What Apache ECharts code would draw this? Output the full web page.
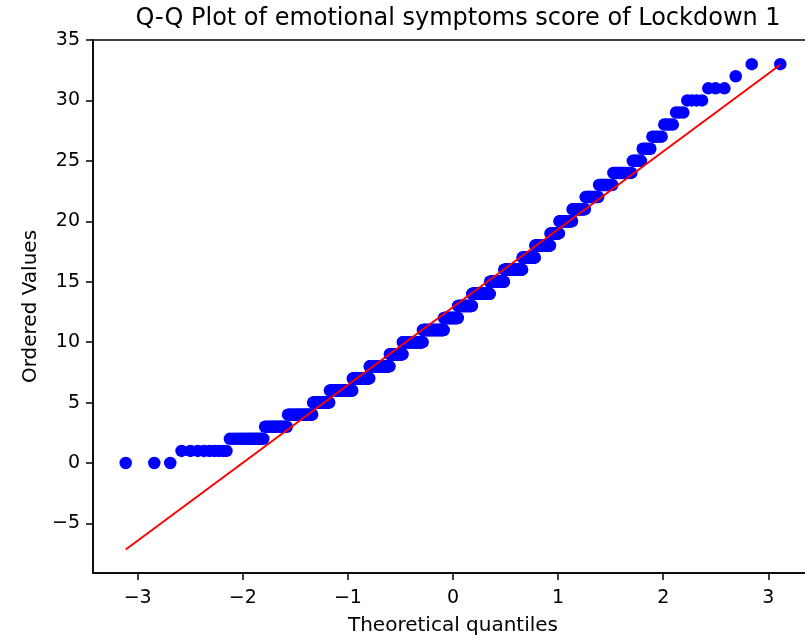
<!DOCTYPE html>
<html>
<head>
<meta charset="utf-8">
<script src="https://cdn.jsdelivr.net/npm/echarts@6/dist/echarts.min.js"></script>
<style>
html,body{margin:0;padding:0;background:#fff;}
#chart{width:805px;height:638px;}
</style>
</head>
<body>
<div id="chart"></div>
<script>
// Score values and how many respondents had each score
const scores = [0,1,2,3,4,5,6,7,8,9,10,11,12,13,14,15,16,17,18,19,20,21,22,23,24,25,26,27,28,29,30,31,32,33];
const counts = [3,9,15,16,25,22,37,33,45,32,53,59,40,40,49,37,44,28,30,16,21,18,16,14,15,6,5,5,4,3,4,3,1,2];
// fitted reference line (slope, intercept)
const fitSlope = 6.44;
const fitIntercept = 12.9;
const xTicks = [-3,-2,-1,0,1,2,3];
const yTicks = [-5,0,5,10,15,20,25,30,35];
const xRange = [-3.425, 3.425];
const yRange = [-9.1, 35.0];
const titleText = 'Q-Q Plot of emotional symptoms score of Lockdown 1';
const xName = 'Theoretical quantiles';
const yName = 'Ordered Values';

// Inverse standard normal CDF (Acklam)
function normInv(p){
  const a=[-3.969683028665376e+01,2.209460984245205e+02,-2.759285104469687e+02,1.383577518672690e+02,-3.066479806614716e+01,2.506628277459239e+00];
  const b=[-5.447609879822406e+01,1.615858368580409e+02,-1.556989798598866e+02,6.680131188771972e+01,-1.328068155288572e+01];
  const c=[-7.784894002430293e-03,-3.223964580411365e-01,-2.400758277161838e+00,-2.549732539343734e+00,4.374664141464968e+00,2.938163982698783e+00];
  const d=[7.784695709041462e-03,3.224671290700398e-01,2.445134137142996e+00,3.754408661907416e+00];
  const pl=0.02425, ph=1-pl;
  let q,r;
  if(p<pl){q=Math.sqrt(-2*Math.log(p));return (((((c[0]*q+c[1])*q+c[2])*q+c[3])*q+c[4])*q+c[5])/((((d[0]*q+d[1])*q+d[2])*q+d[3])*q+1);}
  if(p<=ph){q=p-0.5;r=q*q;return (((((a[0]*r+a[1])*r+a[2])*r+a[3])*r+a[4])*r+a[5])*q/(((((b[0]*r+b[1])*r+b[2])*r+b[3])*r+b[4])*r+1);}
  q=Math.sqrt(-2*Math.log(1-p));return -(((((c[0]*q+c[1])*q+c[2])*q+c[3])*q+c[4])*q+c[5])/((((d[0]*q+d[1])*q+d[2])*q+d[3])*q+1);
}

// ordered values
const ordered=[];
scores.forEach((s,i)=>{for(let k=0;k<counts[i];k++)ordered.push(s);});
const n=ordered.length;
// Filliben order statistic medians
const osm=[];
for(let i=1;i<=n;i++){
  let m;
  if(i===n) m=Math.pow(0.5,1/n);
  else if(i===1) m=1-Math.pow(0.5,1/n);
  else m=(i-0.3175)/(n+0.365);
  osm.push(normInv(m));
}
const pts=osm.map((x,i)=>[x,ordered[i]]);
const fitLine=[[osm[0],fitIntercept+fitSlope*osm[0]],[osm[n-1],fitIntercept+fitSlope*osm[n-1]]];

const FONT='DejaVu Sans';
const fmt=v=>String(v).replace('-','\u2212');
const chart=echarts.init(document.getElementById('chart'),null,{renderer:'canvas'});
chart.setOption({
  animation:false,
  backgroundColor:'#fff',
  title:{text:titleText,left:453,textAlign:'center',top:2,
    textStyle:{fontFamily:FONT,fontSize:24,fontWeight:'normal',color:'#000'}},
  grid:{left:93,top:40,width:720,height:533,containLabel:false,outerBoundsMode:'none',show:true,borderColor:'#000',borderWidth:1.5,backgroundColor:'transparent'},
  xAxis:{type:'value',min:xRange[0],max:xRange[1],
    name:xName,nameLocation:'middle',nameGap:43,
    nameTextStyle:{fontFamily:FONT,fontSize:20,color:'#000'},
    axisLine:{show:true,onZero:false,lineStyle:{color:'#000',width:1.5}},
    axisTick:{show:true,length:7,customValues:xTicks,lineStyle:{color:'#000',width:1.5}},
    axisLabel:{customValues:xTicks,margin:16,formatter:fmt,fontFamily:FONT,fontSize:19,color:'#000'},
    splitLine:{show:false}},
  yAxis:{type:'value',min:yRange[0],max:yRange[1],
    name:yName,nameLocation:'middle',nameGap:50,
    nameTextStyle:{fontFamily:FONT,fontSize:20,color:'#000'},
    axisLine:{show:true,onZero:false,lineStyle:{color:'#000',width:1.5}},
    axisTick:{show:true,length:7,customValues:yTicks,lineStyle:{color:'#000',width:1.5}},
    axisLabel:{customValues:yTicks,margin:13,formatter:fmt,fontFamily:FONT,fontSize:19,color:'#000'},
    splitLine:{show:false}},
  series:[
    {type:'scatter',data:pts,symbol:'circle',symbolSize:12.5,itemStyle:{color:'#0000ff',opacity:1},z:2},
    {type:'line',data:fitLine,showSymbol:false,symbol:'none',lineStyle:{color:'#ff0000',width:2},z:3}
  ]
});
</script>
</body>
</html>
